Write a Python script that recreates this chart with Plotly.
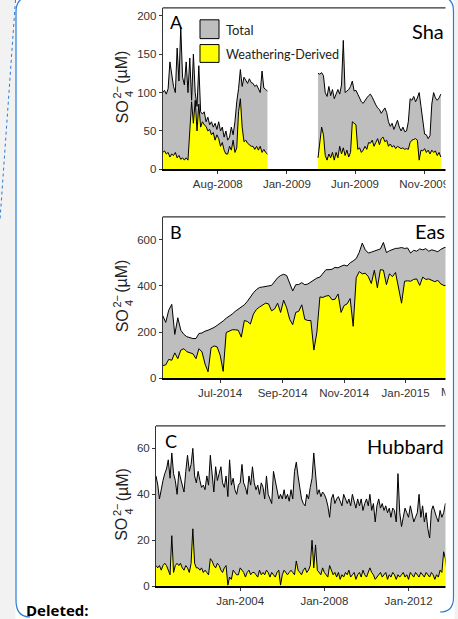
import plotly.graph_objects as go
import pandas as pd

W, H = 458, 619
def px(x): return x / W
def py(y): return 1 - y / H

# ---------------- Panel A (Shale Hills) ----------------
A_SEG1_START = "2008-04-01"
A_SEG2_START = "2009-03-11"
A_STEP = "4D"
a1_total = [100,103,98,105,140,120,108,100,158,115, 185,120,110,140,100,145,90,150,100,82,
            135,75,72,75,62,68,58,62,55,60, 52,62,50,55,42,50,38,42,55,45,
            62,88,105,130,108,120,115,112,118,113, 112,108,110,105,100,128,106,104,102]
a1_weather = [22,24,20,22,16,20,18,22,15,18, 13,15,12,15,12,45,88,60,90,50,
              85,55,62,58,56,50,52,45,48,38, 45,40,30,35,25,20,20,30,25,38,
              22,28,75,92,55,36,38,34,32,30, 30,26,30,25,30,22,26,22,20]
a2_total = [125,124,126,122,100,95,108,96,104,92, 98,104,98,110,168,100,102,104,108,115,
            102,103,98,92,88,86,90,93,96,98, 94,88,84,80,78,73,76,80,74,62,
            56,60,52,58,64,55,50,55,49,50, 62,92,90,95,88,93,100,82,62,46,
            45,40,44,85,100,93,90,93,98]
a2_weather = [15,35,55,45,18,12,20,15,22,12, 22,15,30,20,28,18,25,16,22,62,
              60,58,26,28,22,25,30,26,35,34, 38,30,35,40,32,40,42,36,38,30,
              33,29,31,27,30,29,27,28,26,27, 26,35,38,39,40,38,12,25,24,27,
              22,25,20,25,22,24,18,22,16]
A_TICKVALS = ["2008-08-01", "2009-01-01", "2009-06-01", "2009-11-01"]
A_TICKTEXT = ["Aug-2008", "Jan-2009", "Jun-2009", "Nov-2009"]
A_YTICKS = [0, 50, 100, 150, 200]

# ---------------- Panel B (East River) ----------------
B_START = "2014-05-05"
B_STEP = "3D"
b_total = [272,242,295,320,190,262,208,190,180,176, 172,172,194,196,204,208,213,220,229,238,
           248,260,268,278,290,300,308,318,333,352, 370,384,393,395,396,400,402,418,435,445,
           450,445,415,378,405,406,414,405,408,418, 428,434,438,455,470,470,472,480,478,485,
           490,486,500,508,518,545,585,556,542,546, 550,556,560,588,544,552,558,562,563,566,
           562,564,542,554,550,560,556,561,550,556, 552,548,558,565,568,562,565,566]
b_weather = [55,58,82,78,110,85,122,128,115,110, 106,85,128,114,62,28,132,140,136,100,
             30,198,205,210,210,208,178,250,246,235, 278,298,308,318,325,322,292,300,325,285,
             338,305,255,232,285,290,318,255,250,250, 122,200,352,350,356,358,340,342,365,285,
             315,322,345,225,435,462,452,455,440,410, 468,392,470,468,405,452,440,458,395,325,
             420,422,420,428,430,402,438,428,430,424, 418,424,408,402,400,402,398,400]
B_TICKVALS = ["2014-07-01", "2014-09-01", "2014-11-01", "2015-01-01"]
B_TICKTEXT = ["Jul-2014", "Sep-2014", "Nov-2014", "Jan-2015"]
B_EDGE_TICKVAL = ["2015-02-10"]      # visible first letter of the cropped "Mar-2015" label
B_EDGE_TICKTEXT = ["M"]
B_YTICKS = [0, 200, 400, 600]

# ---------------- Panel C (Hubbard Brook) ----------------
C_START = "2000-01-01"
C_STEP = "MS"
c_total = [48,44,38,43,46,49,51,55,47,58, 49,46,40,50,47,44,41,50,57,50,
           53,60,48,45,50,46,43,44,42,48, 44,57,47,41,52,46,49,52,45,43,
           48,39,55,44,47,42,40,44,45,53, 45,43,40,48,44,52,45,42,44,40,
           45,43,38,48,40,38,36,50,46,42, 38,40,38,42,38,40,37,42,38,50,
           54,48,42,38,36,35,40,38,43,47, 58,48,40,42,39,41,40,38,35,30,
           38,40,36,38,39,37,35,40,38,36, 38,35,40,37,34,38,35,38,33,36,
           38,35,40,33,36,28,35,38,34,36, 33,35,32,34,30,34,33,28,49,32,
           26,30,34,32,30,35,32,28,30,32, 40,30,35,28,32,25,21,33,35,32,
           30,28,33,30,32,36,35,34,36,33, 35,34,36,35]
c_weather = [9,8,9,7,9,10,9,7,5,22, 6,9,10,9,10,8,7,9,8,6,
             10,25,10,8,8,7,8,6,7,6, 5,12,11,9,8,10,9,7,6,8,
             9,0.5,4,3,7,6,5,5,8,7, 6,4,6,7,5,6,6,5,4,7,
             5,6,5,7,6,4,6,5,4,6, 7,0.5,5,7,6,5,6,7,6,5,
             11,7,6,5,7,8,6,7,9,20, 8,18,7,6,5,8,6,5,4,9,
             7,5,6,4,6,3,5,4,6,5, 7,4,5,6,3,5,6,4,7,5,
             4,6,8,6,5,3,4,5,6,4, 5,6,3,5,4,6,5,3,5,4,
             5,6,4,5,3,6,5,4,6,5, 4,6,5,4,6,5,4,6,5,3,
             5,4,7,6,15,12,5,4,5,4, 5,6,5,4]
C_TICKVALS = ["2004-01-01", "2008-01-01", "2012-01-01"]
C_TICKTEXT = ["Jan-2004", "Jan-2008", "Jan-2012"]
C_YTICKS = [0, 20, 40, 60]

GREY = "#bebebe"
YEL = "#ffff00"
TICKFONT = dict(family="Liberation Sans, Arial, sans-serif", size=11.5, color="#333333")
LABFONT = "Lato, Open Sans, sans-serif"
BLUE = "#2b7bd6"

fig = go.Figure()

def add_pair(dates, w, t, xa, ya):
    fig.add_trace(go.Scatter(x=dates, y=w, xaxis=xa, yaxis=ya, mode="lines",
                             line=dict(color="black", width=1), fill="tozeroy",
                             fillcolor=YEL, showlegend=False, hoverinfo="skip"))
    fig.add_trace(go.Scatter(x=dates, y=t, xaxis=xa, yaxis=ya, mode="lines",
                             line=dict(color="black", width=1), fill="tonexty",
                             fillcolor=GREY, showlegend=False, hoverinfo="skip"))

add_pair(pd.date_range(A_SEG1_START, periods=len(a1_total), freq=A_STEP), a1_weather, a1_total, "x", "y")
add_pair(pd.date_range(A_SEG2_START, periods=len(a2_total), freq=A_STEP), a2_weather, a2_total, "x", "y")
add_pair(pd.date_range(B_START, periods=len(b_total), freq=B_STEP), b_weather, b_total, "x2", "y2")
add_pair(pd.date_range(C_START, periods=len(c_total), freq=C_STEP), c_weather, c_total, "x3", "y3")
# invisible helper trace so the overlay axis (edge tick label of panel B) is drawn
fig.add_trace(go.Scatter(x=B_EDGE_TICKVAL, y=[None], xaxis="x4", yaxis="y2", mode="lines",
                         showlegend=False, hoverinfo="skip"))

def xax(left, rng, tv, tt, anchor):
    return dict(domain=[px(left), 1], range=rng, type="date", tickvals=tv, ticktext=tt,
                ticks="outside", ticklen=3, tickcolor="#333", tickwidth=1,
                showline=True, linecolor="black", linewidth=1.6, showgrid=False,
                zeroline=False, tickfont=TICKFONT, anchor=anchor, fixedrange=True)

def yax(top, bottom, rng, tv, anchor):
    return dict(domain=[py(bottom), py(top)], range=rng, tickvals=tv,
                ticks="outside", ticklen=3, tickcolor="#333", tickwidth=1,
                showline=True, linecolor="#333", linewidth=1, showgrid=False,
                zeroline=False, tickfont=TICKFONT, anchor=anchor, fixedrange=True)

A_L, B_L, C_L = 162.7, 162.7, 156
A_T, A_B = 8, 171
B_T, B_B = 219, 382
C_T, C_B = 430, 592
B_RANGE = ["2014-05-05", "2015-02-22"]

x4 = dict(domain=[px(B_L), 1], range=B_RANGE, type="date", overlaying="x2", anchor="y2",
          tickvals=B_EDGE_TICKVAL, ticktext=B_EDGE_TICKTEXT, ticks="outside", ticklen=3,
          tickcolor="rgba(0,0,0,0)", showline=False, showgrid=False, zeroline=False,
          tickfont=TICKFONT, fixedrange=True)

fig.update_layout(
    width=W, height=H, margin=dict(l=0, r=0, t=0, b=0),
    paper_bgcolor="white", plot_bgcolor="rgba(0,0,0,0)",
    xaxis=xax(A_L, ["2008-04-01", "2010-01-15"], A_TICKVALS, A_TICKTEXT, "y"),
    yaxis=yax(A_T, A_B, [0, 210.3], A_YTICKS, "x"),
    xaxis2=xax(B_L, B_RANGE, B_TICKVALS, B_TICKTEXT, "y2"),
    yaxis2=yax(B_T, B_B, [0, 698.6], B_YTICKS, "x2"),
    xaxis3=xax(C_L, ["2000-01-01", "2014-05-08"], C_TICKVALS, C_TICKTEXT, "y3"),
    yaxis3=yax(C_T, C_B, [0, 69.8], C_YTICKS, "x3"),
    xaxis4=x4,
)

shapes = []
# top frame lines
for left, top in [(A_L, A_T), (B_L, B_T), (C_L, C_T)]:
    shapes.append(dict(type="line", xref="paper", yref="paper", x0=px(left), x1=1,
                       y0=py(top), y1=py(top), line=dict(color="#333", width=1.2), layer="above"))
# legend swatches
shapes.append(dict(type="rect", xref="paper", yref="paper", x0=px(200), x1=px(219),
                   y0=py(39), y1=py(20), fillcolor=GREY, line=dict(color="black", width=1), layer="above"))
shapes.append(dict(type="rect", xref="paper", yref="paper", x0=px(200), x1=px(219),
                   y0=py(63), y1=py(45), fillcolor=YEL, line=dict(color="black", width=1), layer="above"))
# page decorations: mask cropped region, side grey, comment box border
shapes.append(dict(type="rect", xref="paper", yref="paper", x0=px(445.5), x1=px(470),
                   y0=-0.05, y1=1.05, fillcolor="white", line=dict(width=0), layer="above"))
shapes.append(dict(type="rect", xref="paper", yref="paper", x0=px(454.5), x1=px(470),
                   y0=-0.05, y1=1.05, fillcolor="#f2f2f2", line=dict(width=0), layer="above"))
shapes.append(dict(type="rect", xref="paper", yref="paper", x0=px(-5), x1=px(15.5),
                   y0=-0.05, y1=1.05, fillcolor="#f2f2f2", line=dict(width=0), layer="above"))
def P(x, y): return f"{px(x):.5f},{py(y):.5f}"
path = (f"M {P(30, 623)} Q {P(16, 623)} {P(16, 606)} L {P(16, 12)} Q {P(16, -3)} {P(30, -3)} "
        f"L {P(440, -3)} Q {P(453.5, -3)} {P(453.5, 11)} L {P(453.5, 603)} "
        f"Q {P(453.5, 618)} {P(440, 618)}")
shapes.append(dict(type="path", xref="paper", yref="paper", path=path,
                   line=dict(color=BLUE, width=1.2), layer="above"))
shapes.append(dict(type="line", xref="paper", yref="paper", x0=px(15.5), y0=py(0),
                   x1=px(0), y1=py(222), line=dict(color=BLUE, width=1, dash="dot"), layer="above"))
fig.update_layout(shapes=shapes)

ann = []
def text(x, y, s, size, xanchor="left", yanchor="middle", family=LABFONT, color="black", angle=0):
    ann.append(dict(x=px(x), y=py(y), xref="paper", yref="paper", text=s, showarrow=False,
                    xanchor=xanchor, yanchor=yanchor, textangle=angle,
                    font=dict(family=family, size=size, color=color)))

# panel letters & site names
text(168, 22.5, "A", 18)
text(168, 234, "B", 18)
text(163, 445.5, "C", 18)
text(445.5, 31, "Sha", 20, xanchor="right")
text(446.5, 233.5, "Eas", 20, xanchor="right")
text(445.5, 450, "Hubbard", 20, xanchor="right")
# legend text
text(224, 30, "Total", 13, color="#222")
text(224, 55, "Weathering-Derived", 12.6, color="#222")

# y-axis titles (stacked super/subscript)
AX = "Liberation Sans, Arial, sans-serif"
for c in [(A_T + A_B) / 2, (B_T + B_B) / 2, (C_T + C_B) / 2]:
    text(122, c + 24, "SO", 16, xanchor="center", family=AX, color="#222", angle=-90)
    text(129, c + 5.5, "4", 11, xanchor="center", family=AX, color="#222", angle=-90)
    text(117, c + 4, "2−", 11, xanchor="center", family=AX, color="#222", angle=-90)
    text(122, c - 21, "(µM)", 16, xanchor="center", family=AX, color="#222", angle=-90)

# bottom "Deleted:" label
text(24, 604, "<b>Deleted:</b>", 15, yanchor="top", family="Open Sans, Lato, sans-serif")
fig.update_layout(annotations=ann)

fig.write_html("out.html", config={"displayModeBar": False, "staticPlot": True},
               post_script="document.body.style.margin='0px';document.body.style.overflow='hidden';")
